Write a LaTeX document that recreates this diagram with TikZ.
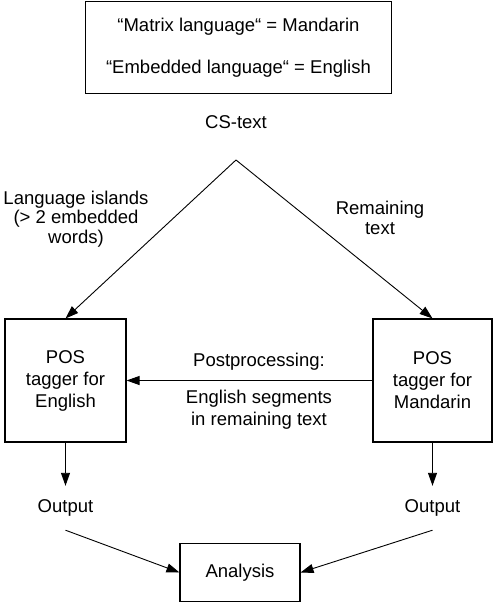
\documentclass[tikz,border=0pt]{standalone}
\usepackage{fontspec}
\setmainfont{Liberation Sans}
\usetikzlibrary{arrows.meta}
\begin{document}
\begin{tikzpicture}[x=1pt,y=-1pt,
  every node/.style={font=\fontsize{18.5}{22}\selectfont, align=center, inner sep=0pt},
  box/.style={draw, line width=1.1pt},
  conn/.style={line width=0.9pt, -{Triangle[length=13pt,width=9pt]}}]
\useasboundingbox (0,0) rectangle (494,602);
% top legend box
\node[box, minimum width=306pt, minimum height=92pt, font=\fontsize{18.5}{42}\selectfont] (legend) at (238.5,47.5)
  {“Matrix language“ = Mandarin\\“Embedded language“ = English};
\node (cs) at (236,122) {CS-text};
\coordinate (apex) at (236,160);
% tagger boxes
\node[box, minimum width=121pt, minimum height=123pt] (eng) at (65.5,380.5) {POS\\tagger for\\English};
\node[box, minimum width=119pt, minimum height=123pt] (man) at (432.5,380.5) {POS\\tagger for\\Mandarin};
% branch labels
\node[font=\fontsize{18.5}{19.5}\selectfont] (islands) at (76,219) {Language islands\\(> 2 embedded\\words)};
\node[font=\fontsize{18.5}{20}\selectfont] (remain) at (380,218) {Remaining\\text};
\draw[conn] (apex) -- (eng.north);
\draw[conn] (apex) -- (man.north);
% postprocessing
\draw[conn] (man.west) -- (eng.east);
\node (post) at (259,362) {Postprocessing:};
\node (segs) at (259,409.5) {English segments\\in remaining text};
% outputs
\node[minimum height=44pt] (out1) at (65.5,508) {Output};
\node[minimum height=44pt] (out2) at (432.5,508) {Output};
\draw[conn] (eng.south) -- (out1.north);
\draw[conn] (man.south) -- (out2.north);
% analysis
\node[box, minimum width=120pt, minimum height=58pt] (ana) at (240,572.5) {Analysis};
\draw[conn] (out1.south) -- (ana.west);
\draw[conn] (out2.south) -- (ana.east);
\end{tikzpicture}
\end{document}
